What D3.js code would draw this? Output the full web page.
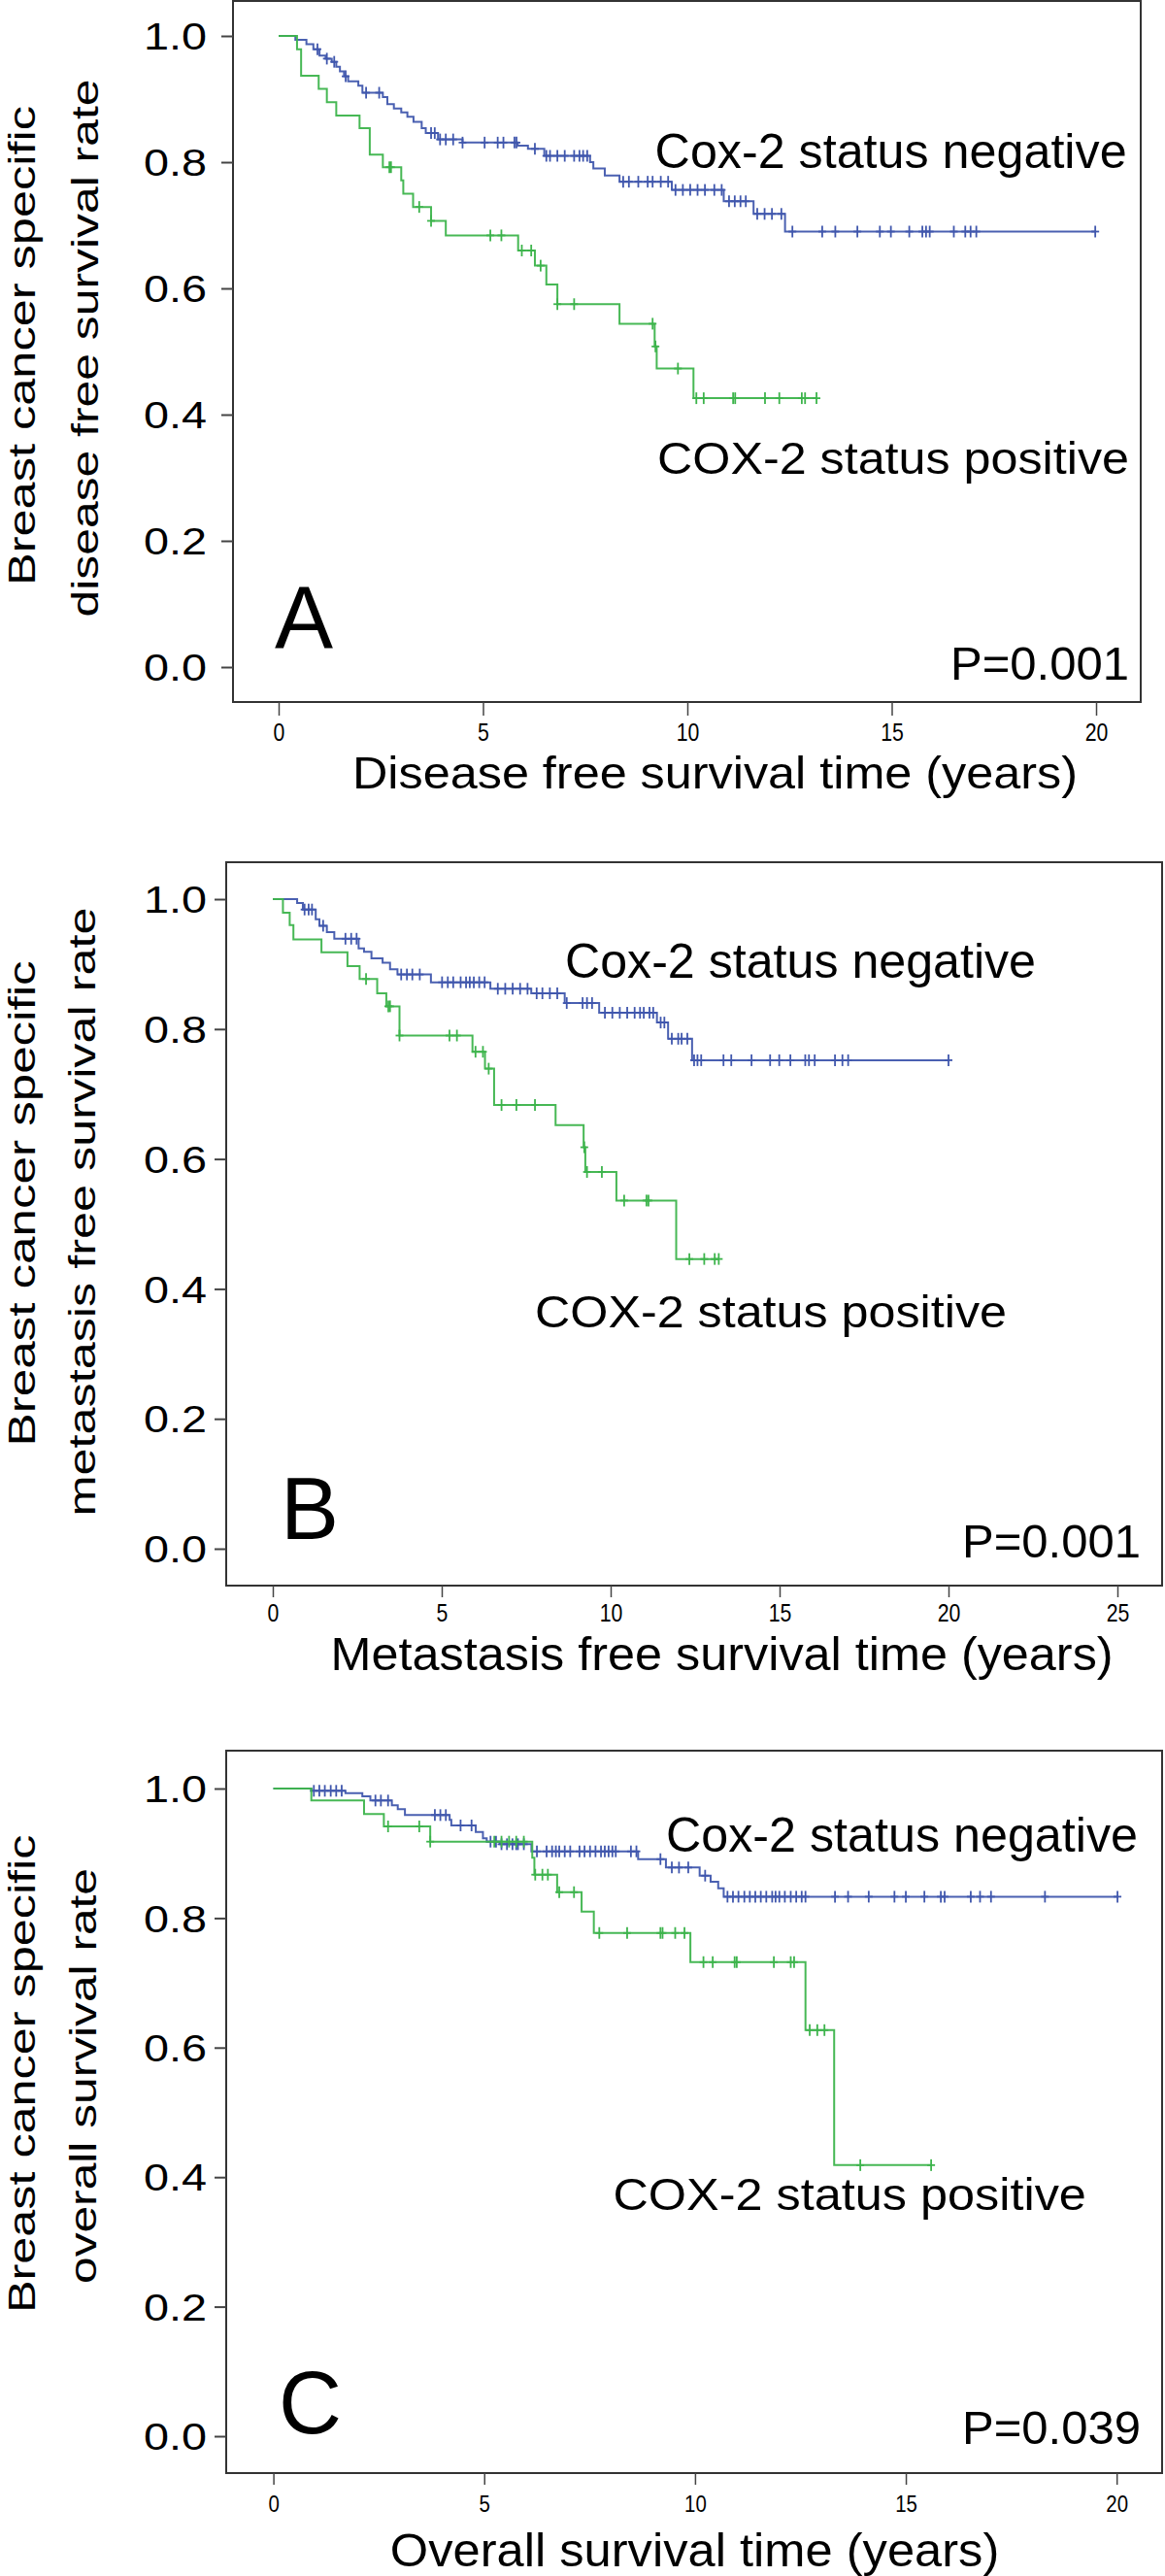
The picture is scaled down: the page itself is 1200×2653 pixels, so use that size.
<!DOCTYPE html>
<html><head><meta charset="utf-8">
<script src="https://cdn.jsdelivr.net/npm/d3@7"></script>
<style>
body{margin:0;background:#fff}
svg{display:block}
text{font-family:"Liberation Sans", Arial, Helvetica, sans-serif; fill:#000}
</style>
</head><body>
<svg id="chart" width="1200" height="2653"></svg>
<script>
// ---------------- DATA ----------------
const yTicks = [0, 0.2, 0.4, 0.6, 0.8, 1.0];
const xTicks20 = [0, 5, 10, 15, 20];
const xTicks25 = [0, 5, 10, 15, 20, 25];

const groupLabels = ["Cox-2 status negative", "COX-2 status positive"];
const panelLetters = ["A", "B", "C"];
const pValues = ["P=0.001", "P=0.001", "P=0.039"];
const xTitles = ["Disease free survival time (years)", "Metastasis free survival time (years)", "Overall survival time (years)"];
const yTitles1 = ["Breast cancer specific", "Breast cancer specific", "Breast cancer specific"];
const yTitles2 = ["disease free survival rate", "metastasis free survival rate", "overall survival rate"];

// Panel A: disease free survival  [time, survival after step]
const dfsNegSteps = [[0,1],[0.41,0.994],[0.68,0.987],[0.85,0.979],[1.0,0.969],[1.15,0.964],[1.3,0.959],[1.41,0.951],[1.5,0.944],[1.6,0.936],[1.7,0.928],[1.95,0.921],[2.05,0.910],[2.55,0.903],[2.66,0.892],[2.82,0.885],[3.0,0.879],[3.15,0.872],[3.3,0.864],[3.5,0.854],[3.6,0.846],[3.9,0.836],[4.5,0.831],[5.85,0.826],[6.1,0.821],[6.5,0.810],[7.62,0.800],[7.7,0.790],[7.98,0.779],[8.34,0.769],[9.62,0.756],[10.89,0.738],[11.62,0.718],[12.39,0.690]];
const dfsNegEnd = 19.98;
const dfsNegCensor = [0.95,1.18,1.36,1.64,2.14,2.46,3.73,3.82,3.95,4.09,4.27,4.50,5.04,5.36,5.50,5.77,5.82,6.27,6.55,6.64,6.82,7.00,7.23,7.36,7.45,7.55,8.43,8.57,8.80,9.03,9.15,9.35,9.53,9.71,9.89,10.07,10.25,10.43,10.66,10.84,11.02,11.16,11.30,11.43,11.71,11.89,12.07,12.30,12.57,13.30,13.62,14.16,14.71,14.98,15.43,15.75,15.84,15.93,16.52,16.80,16.93,17.07,19.98];
const dfsPosSteps = [[0,1],[0.45,0.979],[0.55,0.937],[0.98,0.916],[1.18,0.895],[1.41,0.874],[1.98,0.854],[2.23,0.812],[2.55,0.792],[3.0,0.771],[3.05,0.750],[3.29,0.729],[3.73,0.707],[4.09,0.684],[5.86,0.660],[6.27,0.636],[6.55,0.606],[6.82,0.575],[8.34,0.544],[9.2,0.508],[9.25,0.473],[10.15,0.426]];
const dfsPosEnd = 13.16;
const dfsPosCensor = [2.71,2.75,3.44,3.73,5.18,5.45,5.95,6.18,6.41,6.82,7.23,9.15,9.22,9.77,10.22,10.40,11.12,11.17,11.90,12.25,12.80,12.88,13.16];

// Panel B: metastasis free survival
const mfsNegSteps = [[0,1],[0.72,0.994],[0.89,0.984],[1.27,0.969],[1.38,0.959],[1.6,0.949],[1.82,0.939],[2.54,0.924],[2.7,0.919],[2.92,0.909],[3.25,0.902],[3.47,0.892],[3.69,0.884],[4.68,0.872],[6.44,0.862],[7.65,0.855],[8.64,0.840],[9.66,0.825],[11.37,0.810],[11.7,0.785],[12.41,0.752]];
const mfsNegEnd = 20.0;
const mfsNegCensor = [0.94,1.06,1.16,1.49,2.15,2.32,2.48,3.80,3.97,4.13,4.35,5.01,5.18,5.34,5.56,5.72,5.83,5.95,6.11,6.27,6.66,6.88,7.10,7.32,7.54,7.81,7.98,8.20,8.42,8.70,9.17,9.30,9.45,9.83,10.05,10.27,10.49,10.71,10.87,10.98,11.15,11.26,11.48,11.59,11.81,12.0,12.1,12.27,12.47,12.57,12.68,13.34,13.57,14.17,14.72,14.99,15.32,15.76,15.87,16.04,16.64,16.86,17.03,20.0];
const mfsPosSteps = [[0,1],[0.3,0.979],[0.5,0.960],[0.61,0.938],[1.44,0.918],[2.21,0.897],[2.57,0.877],[3.09,0.855],[3.36,0.835],[3.75,0.790],[5.91,0.765],[6.28,0.739],[6.55,0.683],[8.37,0.652],[9.2,0.618],[9.25,0.580],[10.17,0.536],[11.94,0.446]];
const mfsPosEnd = 13.2;
const mfsPosCensor = [2.76,3.42,3.47,3.75,5.23,5.45,6.0,6.22,6.39,6.77,7.21,7.76,9.22,9.30,9.74,10.40,11.06,11.12,12.33,12.77,13.08,13.2];

// Panel C: overall survival
const osNegSteps = [[0,1],[0.9,0.9965],[1.71,0.993],[2.11,0.988],[2.3,0.9815],[2.81,0.974],[2.95,0.968],[3.12,0.959],[4.18,0.9515],[4.22,0.943],[4.8,0.933],[4.97,0.923],[5.06,0.918],[5.37,0.914],[6.12,0.903],[8.65,0.891],[9.31,0.878],[10.11,0.8655],[10.37,0.856],[10.55,0.846],[10.68,0.833]];
const osNegEnd = 20.02;
const osNegCensor = [0.96,1.09,1.22,1.36,1.49,1.62,2.42,2.55,2.72,3.83,3.96,4.09,4.44,4.70,5.15,5.28,5.41,5.54,5.67,5.76,5.80,5.94,6.25,6.48,6.61,6.70,6.78,6.91,7.04,7.26,7.38,7.51,7.64,7.77,7.86,7.95,8.04,8.12,8.48,8.61,9.18,9.45,9.62,9.84,10.24,10.77,10.90,11.03,11.17,11.30,11.43,11.56,11.69,11.83,11.91,12.0,12.13,12.27,12.40,12.53,12.62,13.32,13.63,14.12,14.73,15.0,15.44,15.83,15.92,16.54,16.76,17.02,18.30,20.02];
const osPosSteps = [[0,1],[0.9,0.9815],[2.15,0.9605],[2.62,0.9415],[3.72,0.918],[6.14,0.893],[6.19,0.867],[6.73,0.840],[7.31,0.810],[7.6,0.777],[9.89,0.732],[12.62,0.627],[13.3,0.4185]];
const osPosEnd = 15.6;
const osPosCensor = [2.72,3.46,3.72,5.24,5.41,5.59,5.76,5.94,6.21,6.38,6.51,6.78,7.13,7.73,8.39,9.18,9.23,9.53,9.75,10.20,10.42,10.94,10.99,11.87,12.27,12.35,12.72,12.90,13.07,13.92,15.6];

// ---------------- LAYOUT ----------------
const BLUE = "#4057ad", GREEN = "#3db44c";
const panels = [
  {frame:{l:240,r:1175,t:1,b:723}, xr:[287,1129], xdom:[0,20], yr:[687,37], xt:xTicks20, xtFont:25, xtBase:763, xtTick:14,
   neg:{steps:dfsNegSteps,end:dfsNegEnd,cens:dfsNegCensor}, pos:{steps:dfsPosSteps,end:dfsPosEnd,cens:dfsPosCensor},
   negLab:{x:674.6,y:173.3,len:486,fs:50}, posLab:{x:677,y:488,len:486,fs:47},
   letter:{x:283,y:667,fs:90}, p:{x:1163,y:700,len:184,fs:49},
   xTitle:{x:363,y:812,len:747,fs:46},
   y1:{x:36,cy:356,len:494,fs:38}, y2:{x:101,cy:358.5,len:554,fs:38}},
  {frame:{l:233,r:1197,t:888,b:1633}, xr:[281,1151], xdom:[0,25], yr:[1595,926], xt:xTicks25, xtFont:25, xtBase:1670, xtTick:12,
   neg:{steps:mfsNegSteps,end:mfsNegEnd,cens:mfsNegCensor}, pos:{steps:mfsPosSteps,end:mfsPosEnd,cens:mfsPosCensor},
   negLab:{x:582,y:1006.7,len:485,fs:50}, posLab:{x:551,y:1366.7,len:486,fs:47},
   letter:{x:289,y:1585,fs:90}, p:{x:1175,y:1604,len:184,fs:49},
   xTitle:{x:340.6,y:1720,len:806,fs:48},
   y1:{x:36,cy:1239.4,len:500,fs:38}, y2:{x:98,cy:1248,len:627,fs:38}},
  {frame:{l:233,r:1197,t:1803,b:2547}, xr:[281.6,1150.2], xdom:[0,20], yr:[2509,1842], xt:xTicks20, xtFont:24, xtBase:2587, xtTick:12,
   neg:{steps:osNegSteps,end:osNegEnd,cens:osNegCensor}, pos:{steps:osPosSteps,end:osPosEnd,cens:osPosCensor},
   negLab:{x:686,y:1906.7,len:486,fs:50}, posLab:{x:631.4,y:2275.5,len:487.5,fs:47},
   letter:{x:287,y:2506,fs:90}, p:{x:1175,y:2517,len:184,fs:49},
   xTitle:{x:401.8,y:2643,len:627.5,fs:49},
   y1:{x:36,cy:2135.8,len:492.5,fs:38}, y2:{x:99,cy:2138,len:428,fs:38}}
];

const svg = d3.select("#chart");

function survAt(steps, t){
  let s = steps[0][1];
  for(const d of steps){ if(d[0] <= t + 1e-9) s = d[1]; else break; }
  return s;
}

panels.forEach((P, i) => {
  const g = svg.append("g");
  const x = d3.scaleLinear().domain(P.xdom).range(P.xr);
  const y = d3.scaleLinear().domain([0,1]).range(P.yr);
  const f = P.frame;

  // frame
  g.append("rect").attr("x", f.l).attr("y", f.t).attr("width", f.r - f.l).attr("height", f.b - f.t)
    .attr("fill", "none").attr("stroke", "#333").attr("stroke-width", 2);

  // y axis
  const ya = g.append("g").attr("transform", `translate(${f.l},0)`)
    .call(d3.axisLeft(y).tickValues(yTicks).tickFormat(d3.format(".1f")).tickSize(12).tickPadding(f.l - 12 - 213));
  ya.select(".domain").remove();
  ya.selectAll(".tick line").attr("stroke", "#444").attr("stroke-width", 2);
  ya.selectAll(".tick text").attr("font-size", 38).attr("dy", "0.36em")
    .attr("textLength", 65).attr("lengthAdjust", "spacingAndGlyphs")
    .style("font-family", '"Liberation Sans", Arial, sans-serif');

  // x axis
  const xa = g.append("g").attr("transform", `translate(0,${f.b})`)
    .call(d3.axisBottom(x).tickValues(P.xt).tickFormat(d3.format("d")).tickSize(P.xtTick));
  xa.select(".domain").remove();
  xa.selectAll(".tick line").attr("stroke", "#444").attr("stroke-width", 1.5);
  xa.selectAll(".tick text").attr("font-size", P.xtFont).attr("y", P.xtBase - f.b).attr("dy", 0)
    .attr("transform", "scale(0.85,1)")
    .style("font-family", '"Liberation Sans", Arial, sans-serif');

  // curves
  const line = d3.line().x(d => x(d[0])).y(d => y(d[1])).curve(d3.curveStepAfter);
  [[P.neg, BLUE], [P.pos, GREEN]].forEach(([S, col]) => {
    const pts = S.steps.concat([[S.end, S.steps[S.steps.length - 1][1]]]);
    g.append("path").datum(pts).attr("d", line).attr("fill", "none")
      .attr("stroke", col).attr("stroke-width", 2).attr("opacity", 0.95);
    const cg = g.append("g").attr("stroke", col).attr("stroke-width", 1.8);
    S.cens.forEach(t => {
      const cx = x(t), cy = y(survAt(S.steps, t));
      cg.append("line").attr("x1", cx).attr("x2", cx).attr("y1", cy - 6).attr("y2", cy + 6);
      cg.append("line").attr("x1", cx - 4).attr("x2", cx + 4).attr("y1", cy).attr("y2", cy);
    });
  });

  // group labels
  g.append("text").attr("x", P.negLab.x).attr("y", P.negLab.y).attr("font-size", P.negLab.fs)
    .attr("textLength", P.negLab.len).attr("lengthAdjust", "spacingAndGlyphs").text(groupLabels[0]);
  g.append("text").attr("x", P.posLab.x).attr("y", P.posLab.y).attr("font-size", P.posLab.fs)
    .attr("textLength", P.posLab.len).attr("lengthAdjust", "spacingAndGlyphs").text(groupLabels[1]);

  // panel letter
  g.append("text").attr("x", P.letter.x).attr("y", P.letter.y).attr("font-size", P.letter.fs).text(panelLetters[i]);

  // p value
  g.append("text").attr("x", P.p.x).attr("y", P.p.y).attr("font-size", P.p.fs).attr("text-anchor", "end")
    .attr("textLength", P.p.len).attr("lengthAdjust", "spacingAndGlyphs").text(pValues[i]);

  // x title
  g.append("text").attr("x", P.xTitle.x).attr("y", P.xTitle.y).attr("font-size", P.xTitle.fs)
    .attr("textLength", P.xTitle.len).attr("lengthAdjust", "spacingAndGlyphs").text(xTitles[i]);

  // y titles (rotated)
  [[P.y1, yTitles1[i]], [P.y2, yTitles2[i]]].forEach(([Y, txt]) => {
    g.append("text").attr("transform", `translate(${Y.x},${Y.cy}) rotate(-90)`)
      .attr("text-anchor", "middle").attr("font-size", Y.fs)
      .attr("textLength", Y.len).attr("lengthAdjust", "spacingAndGlyphs").text(txt);
  });
});
</script>
</body></html>
